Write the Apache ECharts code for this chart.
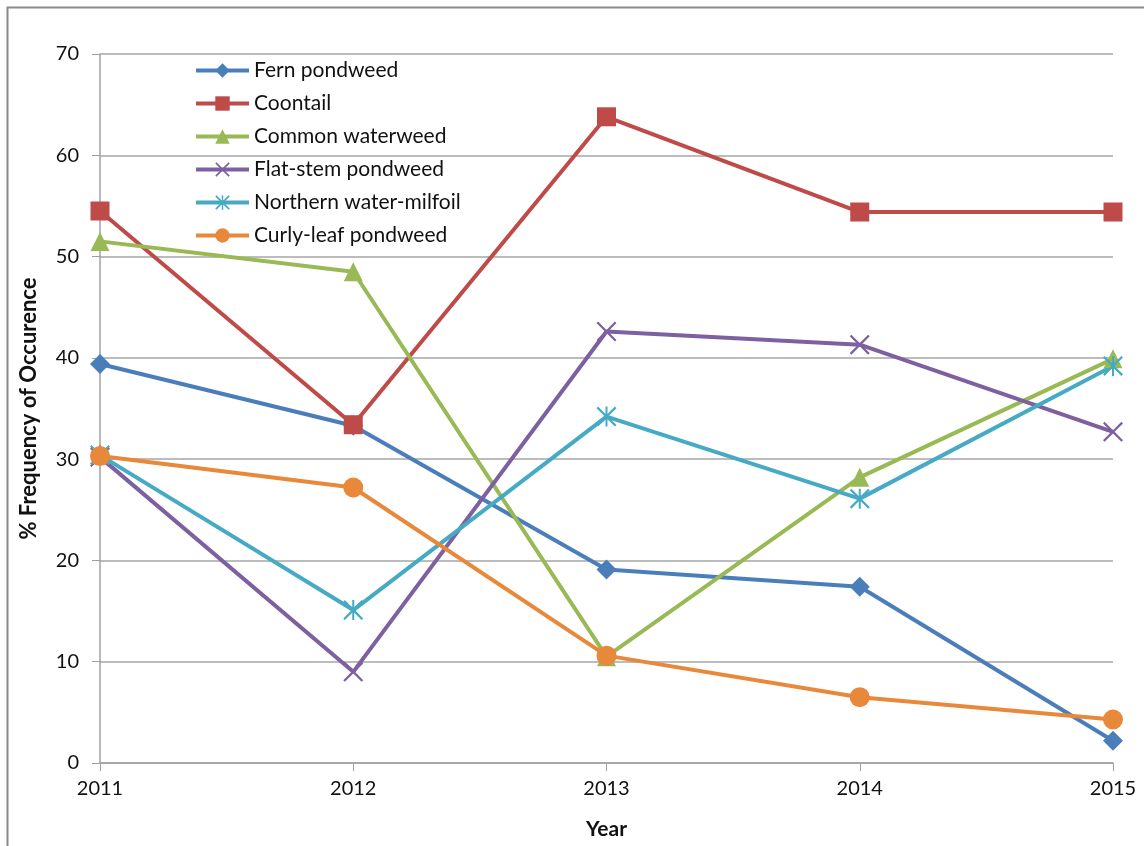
<!DOCTYPE html>
<html><head><meta charset="utf-8">
<script src="https://cdn.jsdelivr.net/npm/echarts@6/dist/echarts.min.js"></script>
<style>html,body{margin:0;padding:0;background:#fff}#c{width:1144px;height:846px}</style>
</head><body><div id="c"></div>
<script>
const years = ['2011','2012','2013','2014','2015'];
const seriesNames = ['Fern pondweed','Coontail','Common waterweed','Flat-stem pondweed','Northern water-milfoil','Curly-leaf pondweed'];
const fernPondweed = [39.4, 33.3, 19.1, 17.4, 2.2];
const coontail = [54.5, 33.4, 63.8, 54.4, 54.4];
const commonWaterweed = [51.5, 48.5, 10.5, 28.2, 39.9];
const flatStemPondweed = [30.2, 9.0, 42.6, 41.3, 32.7];
const northernWaterMilfoil = [30.4, 15.1, 34.2, 26.1, 39.2];
const curlyLeafPondweed = [30.3, 27.2, 10.6, 6.5, 4.3];
const yTicks = [0, 10, 20, 30, 40, 50, 60, 70];

const colors = ['#4A7EBB','#BE4B48','#98B954','#7D60A0','#46AAC5','#E8883A'];
const xPath = 'path://M0,0.8 L0.8,0 L5,4.2 L9.2,0 L10,0.8 L5.8,5 L10,9.2 L9.2,10 L5,5.8 L0.8,10 L0,9.2 L4.2,5 Z';
const starPath = 'path://M0,0.8 L0.8,0 L5,4.2 L9.2,0 L10,0.8 L5.8,5 L10,9.2 L9.2,10 L5,5.8 L0.8,10 L0,9.2 L4.2,5 Z M4.5,0 L5.5,0 L5.5,10 L4.5,10 Z';
const symbols = ['diamond','rect','triangle',xPath,starPath,'circle'];
const sizes = [20,19,19,20,20,20];
const datas = [fernPondweed, coontail, commonWaterweed, flatStemPondweed, northernWaterMilfoil, curlyLeafPondweed];

const chart = echarts.init(document.getElementById('c'));
const font = 'Lato, "Open Sans", sans-serif';
chart.setOption({
  animation: false,
  textStyle: {fontFamily: font},
  graphic: [{
    type: 'rect', shape: {x: 7.5, y: 7.5, width: 1200, height: 900},
    style: {fill: 'none', stroke: '#8a8a8a', lineWidth: 2}, silent: true
  }],
  grid: {left: 100, right: 31, top: 54, bottom: 83},
  legend: {
    orient: 'vertical', left: 189, top: 55,
    itemWidth: 53, itemHeight: 18, itemGap: 12,
    lineStyle: {width: 4},
    textStyle: {fontSize: 21, color: '#111', fontFamily: font},
    data: seriesNames
  },
  xAxis: {
    type: 'category', data: years, boundaryGap: false,
    name: 'Year', nameLocation: 'middle', nameGap: 56,
    nameTextStyle: {fontSize: 21, fontWeight: 'bold', color: '#111'},
    axisLine: {lineStyle: {color: '#a0a0a0', width: 1.5}},
    axisTick: {show: true, alignWithLabel: true, length: 8, lineStyle: {color: '#a0a0a0'}},
    axisLabel: {fontSize: 20, color: '#111', margin: 16}
  },
  yAxis: {
    type: 'value', min: 0, max: 70, interval: 10,
    name: '% Frequency of Occurence', nameLocation: 'middle', nameGap: 60,
    nameTextStyle: {fontSize: 22, fontWeight: 'bold', color: '#111'},
    axisLine: {show: true, lineStyle: {color: '#a0a0a0', width: 1.5}},
    axisTick: {show: true, length: 8, lineStyle: {color: '#a0a0a0'}},
    axisLabel: {fontSize: 20, color: '#111', margin: 21,
      formatter: v => yTicks.includes(v) ? String(v) : ''},
    splitLine: {lineStyle: {color: '#a6a6a6', width: 1.5}}
  },
  series: seriesNames.map((n, i) => ({
    name: n, type: 'line', data: datas[i],
    symbol: symbols[i], symbolSize: sizes[i], showAllSymbol: true,
    lineStyle: {color: colors[i], width: 4},
    itemStyle: {color: colors[i]}
  }))
});
</script></body></html>
